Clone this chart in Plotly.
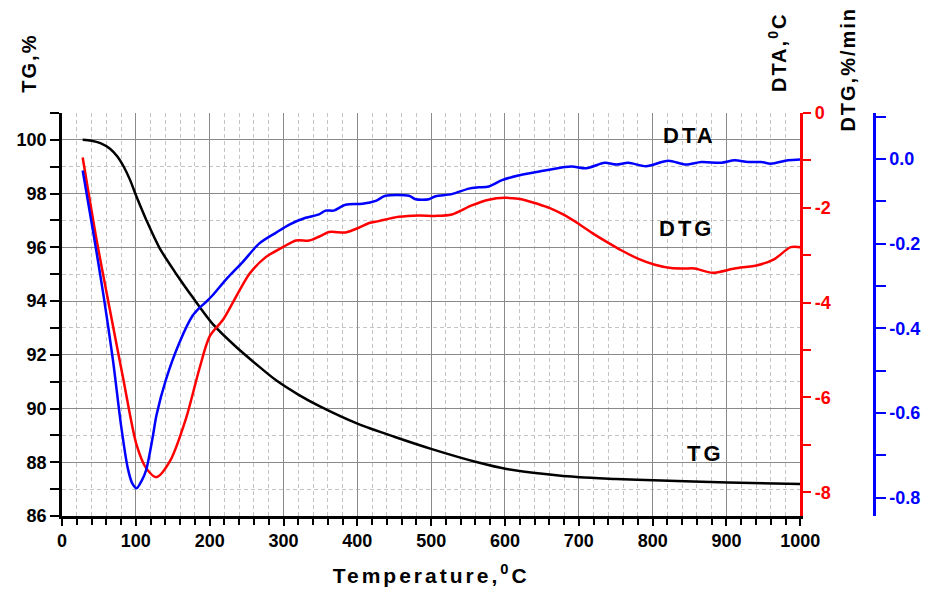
import plotly.graph_objects as go

# Temperature grid points (deg C) and readings for each curve
tg_temp = [28, 40, 52, 65, 75, 84, 92, 101, 114, 132, 155, 177, 204, 236, 267,
           290, 320, 348, 401, 450, 501, 564, 602, 654, 701, 750, 801, 902, 1000]
tg_vals = [100.0, 99.97, 99.88, 99.67, 99.38, 98.98, 98.52, 97.88, 97.03, 95.98,
           95.0, 94.14, 93.15, 92.29, 91.56, 91.05, 90.52, 90.1, 89.43, 88.95,
           88.49, 87.99, 87.75, 87.56, 87.44, 87.38, 87.33, 87.25, 87.19]

dta_temp = [28, 47, 64, 83, 101, 114, 128, 146, 168, 186, 200, 218, 231, 254, 276,
            299, 317, 335, 348, 362, 384, 402, 416, 429, 456, 483, 506, 528, 555,
            578, 600, 618, 632, 645, 660, 680, 699, 720, 740, 758, 780, 803, 825,
            843, 857, 881, 911, 942, 965, 987, 1000]
dta_vals = [-0.94, -2.69, -4.08, -5.61, -7.0, -7.49, -7.68, -7.35, -6.44, -5.40,
            -4.71, -4.36, -4.01, -3.39, -3.04, -2.83, -2.69, -2.69, -2.61, -2.51,
            -2.52, -2.42, -2.32, -2.28, -2.19, -2.16, -2.17, -2.14, -1.95, -1.83,
            -1.79, -1.81, -1.86, -1.92, -2.0, -2.15, -2.33, -2.55, -2.74, -2.90,
            -3.07, -3.20, -3.27, -3.28, -3.28, -3.37, -3.28, -3.21, -3.08, -2.83,
            -2.83]

dtg_temp = [28, 42, 56, 69, 80, 89, 95, 101, 108, 114, 123, 128, 141, 159, 177,
            186, 195, 204, 222, 245, 267, 290, 308, 330, 348, 357, 368, 384, 407,
            425, 438, 470, 479, 497, 506, 528, 551, 564, 578, 596, 618, 645, 654,
            690, 710, 735, 751, 767, 791, 821, 845, 866, 893, 911, 929, 947, 960,
            983, 1000]
dtg_vals = [-0.027, -0.170, -0.320, -0.475, -0.630, -0.730, -0.766, -0.778, -0.760,
            -0.735, -0.656, -0.605, -0.520, -0.434, -0.370, -0.352, -0.338, -0.322,
            -0.285, -0.243, -0.200, -0.174, -0.155, -0.139, -0.131, -0.122, -0.122,
            -0.108, -0.106, -0.099, -0.087, -0.087, -0.095, -0.095, -0.088, -0.083,
            -0.070, -0.067, -0.065, -0.050, -0.039, -0.030, -0.027, -0.018, -0.022,
            -0.009, -0.013, -0.009, -0.017, -0.004, -0.013, -0.007, -0.009, -0.003,
            -0.007, -0.007, -0.011, -0.003, -0.001]

# Tick labels for the right-hand axes (plain hyphen minus)
dta_ticks = [0, -2, -4, -6, -8]
dta_labels = ["0", "-2", "-4", "-6", "-8"]
dtg_ticks = [0.0, -0.2, -0.4, -0.6, -0.8]
dtg_labels = ["0.0", "-0.2", "-0.4", "-0.6", "-0.8"]

FONT = "Liberation Sans, Arial, sans-serif"
RED = "#ff0000"
BLUE = "#0000ff"


def spaced(text, px):
    return f'<span style="letter-spacing:{px}px">{text}</span>'


fig = go.Figure()
fig.add_trace(go.Scatter(x=tg_temp, y=tg_vals, mode="lines", yaxis="y",
                         line=dict(color="black", width=2.5, shape="spline",
                                   smoothing=0.8),
                         showlegend=False))
fig.add_trace(go.Scatter(x=dta_temp, y=dta_vals, mode="lines", yaxis="y2",
                         line=dict(color=RED, width=2.5, shape="spline",
                                   smoothing=0.8),
                         showlegend=False))
fig.add_trace(go.Scatter(x=dtg_temp, y=dtg_vals, mode="lines", yaxis="y3",
                         line=dict(color=BLUE, width=2.5, shape="spline",
                                   smoothing=0.8),
                         showlegend=False))

major_grid = "#8a8a8a"
minor_grid = "#c4c4c4"

fig.update_layout(
    width=932, height=596,
    margin=dict(l=62, r=50, t=113, b=75),
    paper_bgcolor="white", plot_bgcolor="white",
    font=dict(family=FONT, size=18, color="black", weight="bold"),
    xaxis=dict(
        domain=[0, 0.9037], range=[0, 1000], tick0=0, dtick=100,
        ticks="outside", ticklen=7, tickwidth=2, tickcolor="black",
        showline=True, linewidth=2.5, linecolor="black", zeroline=False,
        showgrid=True, gridcolor=major_grid, gridwidth=1,
        tickfont=dict(family=FONT, size=18, color="black", weight="bold"),
        minor=dict(dtick=20, tick0=0, ticks="outside", ticklen=6, tickwidth=2,
                   tickcolor="black", showgrid=True, gridcolor=minor_grid,
                   gridwidth=1, griddash="4px,3px"),
        title=dict(text=spaced("Temperature,<sup>0</sup>C", 3), standoff=18,
                   font=dict(family=FONT, size=21, color="black", weight="bold")),
    ),
    yaxis=dict(
        range=[86, 101], tick0=86, dtick=2,
        ticks="outside", ticklen=9, tickwidth=2, tickcolor="black",
        showline=True, linewidth=2.5, linecolor="black", zeroline=False,
        showgrid=True, gridcolor=major_grid, gridwidth=1,
        tickfont=dict(family=FONT, size=18, color="black", weight="bold"),
        minor=dict(dtick=1, tick0=86, ticks="outside", ticklen=9, tickwidth=2,
                   tickcolor="black", showgrid=True, gridcolor=minor_grid,
                   gridwidth=1, griddash="4px,3px"),
    ),
    yaxis2=dict(
        overlaying="y", side="right", anchor="x", range=[-8.5, 0],
        tickmode="array", tickvals=dta_ticks, ticktext=dta_labels,
        ticks="outside", ticklen=8, tickwidth=2, tickcolor=RED,
        showline=True, linewidth=2.5, linecolor=RED, zeroline=False,
        showgrid=False,
        tickfont=dict(family=FONT, size=18, color=RED, weight="bold"),
        minor=dict(tickmode="linear", tick0=0, dtick=1, ticks="outside",
                   ticklen=8, tickwidth=2, tickcolor=RED, showgrid=False),
    ),
    yaxis3=dict(
        overlaying="y", side="right", anchor="free", position=0.9939,
        range=[-0.8437, 0.1087],
        tickmode="array", tickvals=dtg_ticks, ticktext=dtg_labels,
        ticks="outside", ticklen=10, tickwidth=2, tickcolor=BLUE,
        showline=True, linewidth=2.5, linecolor=BLUE, zeroline=False,
        showgrid=False,
        tickfont=dict(family=FONT, size=18, color=BLUE, weight="bold"),
        minor=dict(tickmode="linear", tick0=0, dtick=0.1, ticks="outside",
                   ticklen=10, tickwidth=2, tickcolor=BLUE, showgrid=False),
    ),
)

title_font = dict(family=FONT, size=20, color="black", weight="bold")
label_font = dict(family=FONT, size=22, color="black", weight="bold")

# Rotated axis captions above the plot area
fig.add_annotation(xref="paper", yref="paper", x=-0.0409, y=1.1239,
                   text=spaced("TG,%", 2), textangle=-90, showarrow=False,
                   xanchor="center", yanchor="middle", font=title_font)
fig.add_annotation(xref="paper", yref="paper", x=0.875, y=1.1509,
                   text=spaced("DTA,<sup>0</sup>C", 2), textangle=-90,
                   showarrow=False, xanchor="center", yanchor="middle",
                   font=title_font)
fig.add_annotation(xref="paper", yref="paper", x=0.9622, y=1.108,
                   text=spaced("DTG,%/min", 2), textangle=-90, showarrow=False,
                   xanchor="center", yanchor="middle", font=title_font)

# Curve labels
fig.add_annotation(x=850, y=100.18, xref="x", yref="y", text=spaced("DTA", 3),
                   showarrow=False, font=label_font)
fig.add_annotation(x=846, y=96.71, xref="x", yref="y", text=spaced("DTG", 3),
                   showarrow=False, font=label_font)
fig.add_annotation(x=871, y=88.31, xref="x", yref="y", text=spaced("TG", 3),
                   showarrow=False, font=label_font)

fig.write_html("out.html")
